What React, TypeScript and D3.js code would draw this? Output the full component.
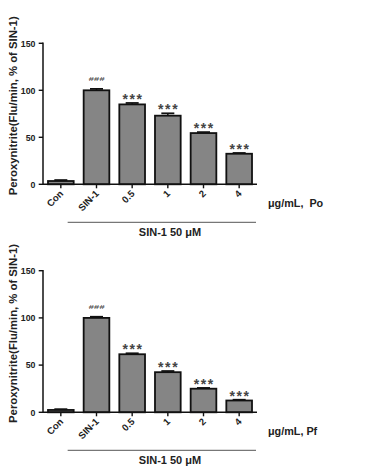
import React from "react";
import * as d3 from "d3";

const categories = ["Con", "SIN-1", "0.5", "1", "2", "4"];
const poValues = [3.5, 100, 85, 73, 54.5, 32.5];
const poErrors = [1, 1.5, 1.5, 2.5, 1, 0.8];
const pfValues = [2.5, 100, 61.5, 42.5, 25, 12.5];
const pfErrors = [0.8, 1.2, 1, 1.2, 0.8, 0.8];
const marks = ["", "###", "***", "***", "***", "***"];
const yTicks = [0, 50, 100, 150];
const yLabel = "Peroxynitrite(Flu/min, % of SIN-1)";
const panels = [
  { values: poValues, errors: poErrors, unit: "μg/mL,  Po", top: 43.3, bottom: 184.3 },
  { values: pfValues, errors: pfErrors, unit: "μg/mL, Pf", top: 270.7, bottom: 412.3 },
];
const groupLabel = "SIN-1 50 μM";

const FONT = "'Liberation Sans', Arial, sans-serif";

function Panel({ values, errors, unit, top, bottom }: any) {
  const x = d3.scaleBand().domain(categories).range([43, 257]).paddingInner(0.28).paddingOuter(0.14);
  const y = d3.scaleLinear().domain([0, 150]).range([bottom, top]);
  const bw = x.bandwidth();
  const lineStart = x("SIN-1")! - 16;
  const lineEnd = x("4")! + bw + 4;
  return (
    <g fontFamily={FONT} fontWeight="bold">
      <text
        transform={`translate(16.5,${(top + bottom) / 2 - 8}) rotate(-90)`}
        textAnchor="middle"
        fontSize={11.3}
        fill="#222"
      >
        {yLabel}
      </text>
      {yTicks.map((t) => (
        <g key={t}>
          <line x1={38.7} x2={43} y1={y(t)} y2={y(t)} stroke="#111" strokeWidth={1.4} />
          <text x={35.5} y={y(t) + 3.2} textAnchor="end" fontSize={8.8} fill="#222">
            {t}
          </text>
        </g>
      ))}
      <line x1={43} x2={43} y1={y(150) - 0.7} y2={y(0)} stroke="#111" strokeWidth={1.5} />
      {categories.map((c, i) => {
        const bx = x(c)!;
        const cx = bx + bw / 2;
        const v = values[i];
        const e = errors[i];
        const capY = y(v + e);
        const isHash = marks[i] === "###";
        return (
          <g key={c}>
            <rect
              x={bx}
              y={y(v)}
              width={bw}
              height={y(0) - y(v)}
              fill="#858585"
              stroke="#111"
              strokeWidth={1.8}
            />
            <line x1={cx} x2={cx} y1={y(v)} y2={capY} stroke="#111" strokeWidth={1.5} />
            <line x1={cx - 6.5} x2={cx + 6.5} y1={capY} y2={capY} stroke="#111" strokeWidth={1.8} />
            <line x1={cx} x2={cx} y1={y(0)} y2={y(0) + 4} stroke="#111" strokeWidth={1.4} />
            {marks[i] &&
              (isHash ? (
                <text
                  transform={`translate(${cx},${capY - 8}) scale(1,0.62)`}
                  textAnchor="middle"
                  fontSize={9.5}
                  fontStyle="italic"
                  fill="#555"
                >
                  {marks[i]}
                </text>
              ) : (
                <text
                  x={cx + 0.8}
                  y={capY + 1}
                  textAnchor="middle"
                  fontSize={14}
                  letterSpacing={1.6}
                  fill="#444"
                >
                  {marks[i]}
                </text>
              ))}
            <text
              transform={`translate(${cx + 3},${y(0) + 10}) rotate(-45)`}
              textAnchor="end"
              fontSize={9.6}
              fill="#222"
            >
              {c}
            </text>
          </g>
        );
      })}
      <line x1={43} x2={257} y1={y(0)} y2={y(0)} stroke="#111" strokeWidth={1.5} />
      <text x={268} y={y(0) + 23} fontSize={10.8} fill="#222" style={{ whiteSpace: "pre" }}>
        {unit}
      </text>
      <line x1={lineStart} x2={lineEnd} y1={y(0) + 38} y2={y(0) + 38} stroke="#555" strokeWidth={1} />
      <text x={170} y={y(0) + 51.5} textAnchor="middle" fontSize={11} fill="#222">
        {groupLabel}
      </text>
    </g>
  );
}

export default function App() {
  return (
    <svg width={368} height={469} style={{ position: "absolute", left: 0, top: 0, background: "#fff" }}>
      <rect width={368} height={469} fill="#fff" />
      {panels.map((p, i) => (
        <Panel key={i} {...p} />
      ))}
    </svg>
  );
}
